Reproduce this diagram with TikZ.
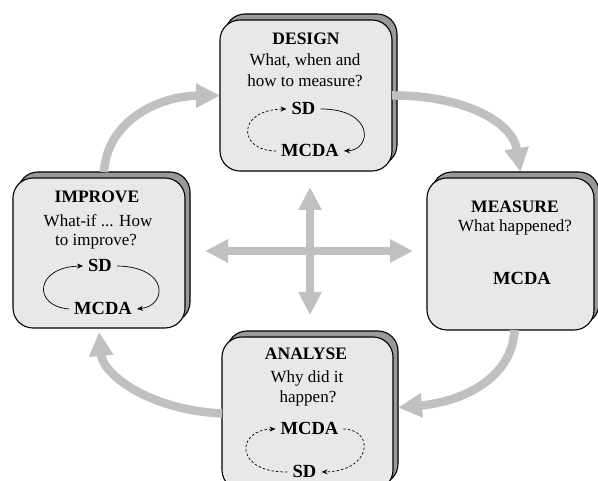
\documentclass[tikz,border=0pt]{standalone}
\usepackage{fontspec}
\setmainfont{Liberation Serif}
\usetikzlibrary{arrows.meta}
\definecolor{boxfill}{HTML}{E8E8E8}
\definecolor{shadowgray}{HTML}{999999}
\definecolor{arrowgray}{HTML}{C0C0C0}
\begin{document}
\begin{tikzpicture}[x=1pt,y=-1pt,
  shadowbox/.style={draw=black, line width=1.1pt, fill=shadowgray, rounded corners=20pt, inner sep=0pt, outer sep=0pt},
  frontbox/.style={draw=black, line width=1.1pt, fill=boxfill, rounded corners=20pt, inner sep=0pt, outer sep=0pt},
  txt/.style={font=\fontsize{17}{20}\selectfont, inner sep=0pt, anchor=base},
  ttl/.style={font=\fontsize{17.5}{20}\selectfont\bfseries, inner sep=0pt, anchor=base},
  cyc/.style={font=\fontsize{18.5}{20}\selectfont\bfseries, inner ysep=1pt, inner xsep=5pt, anchor=base},
  bigarrow/.style={draw=arrowgray, line width=8.5pt, -{Triangle[length=24pt,width=23pt]}},
  crossarrow/.style={draw=arrowgray, line width=8pt, {Triangle[length=23pt,width=22pt]}-{Triangle[length=23pt,width=22pt]}},
  loopsolid/.style={draw=black, line width=0.7pt, -{Stealth[length=6pt,width=5pt]}},
  loopdash/.style={loopsolid, dash pattern=on 2.5pt off 2pt}
]
\clip (0,0) rectangle (598,481);
\fill[white] (0,0) rectangle (598,481);

% boxes: shadow then front
\node[shadowbox, minimum width=172pt, minimum height=151pt] (designS) at (311,89.5) {};
\node[frontbox, minimum width=172pt, minimum height=151pt] (design) at (306,95.5) {};

\node[shadowbox, minimum width=167pt, minimum height=152pt] (measureS) at (515.5,248) {};
\node[frontbox, minimum width=167pt, minimum height=152pt] (measure) at (510.5,254) {};

\node[shadowbox, minimum width=172pt, minimum height=150pt] (improveS) at (104,247) {};
\node[frontbox, minimum width=172pt, minimum height=150pt] (improve) at (99,253) {};

\node[shadowbox, minimum width=171pt, minimum height=153pt] (analyseS) at (312.5,407.5) {};
\node[frontbox, minimum width=171pt, minimum height=153pt] (analyse) at (307.5,413.5) {};

% DESIGN texts
\node[ttl] (designT) at (306,45) {DESIGN};
\node[txt] (designQ1) at (305,66) {What, when and};
\node[txt] (designQ2) at (305,87) {how to measure?};
\node[cyc] (sdD) at (303.5,115) {SD};
\node[cyc] (mcdaD) at (310,157) {MCDA};
\draw[loopdash] (mcdaD.west) .. controls (238,151) and (236,110) .. (sdD.west);
\draw[loopsolid] (sdD.east) .. controls (375,109) and (372,150) .. (mcdaD.east);

% MEASURE texts
\node[ttl] (measureT) at (515,213) {MEASURE};
\node[txt] (measureQ) at (515,232) {What happened?};
\node[cyc] (mcdaM) at (522,285) {MCDA};

% IMPROVE texts
\node[ttl] (improveT) at (97,203) {IMPROVE};
\node[txt] (improveQ1) at (98,227) {What-if ... How};
\node[txt] (improveQ2) at (96,246) {to improve?};
\node[cyc] (sdI) at (100,272) {SD};
\node[cyc] (mcdaI) at (103,315) {MCDA};
\draw[loopsolid] (mcdaI.west) .. controls (32,306) and (35,267) .. (sdI.west);
\draw[loopsolid] (sdI.east) .. controls (170,267) and (167,306) .. (mcdaI.east);

% ANALYSE texts
\node[ttl] (analyseT) at (306,360) {ANALYSE};
\node[txt] (analyseQ1) at (307,383) {Why did it};
\node[txt] (analyseQ2) at (308,403) {happen?};
\node[cyc] (mcdaA) at (309.5,435) {MCDA};
\node[cyc] (sdA) at (304.5,478) {SD};
\draw[loopdash] (sdA.west) .. controls (235,473) and (235,430) .. (mcdaA.west);
\draw[loopdash] (mcdaA.east) .. controls (375,430) and (372,471) .. (sdA.east);

% cycle arrows
\draw[bigarrow] (design.east) .. controls (460,95) and (512,120) .. ([xshift=5pt]measureS.north);
\draw[bigarrow] ([xshift=4pt]measure.south) .. controls (512,380) and (460,402) .. (analyseS.east);
\draw[bigarrow] (analyse.west) .. controls (150,410) and (103,375) .. ([yshift=-4pt]improve.south);
\draw[bigarrow] (improveS.north) .. controls (107,120) and (160,96) .. (design.west);

% central cross
\coordinate (crossL) at (205,251);
\coordinate (crossR) at (413,251);
\coordinate (crossT) at (310,187);
\coordinate (crossB) at (310,315);
\draw[crossarrow] (crossL) -- (crossR);
\draw[crossarrow] (crossT) -- (crossB);
\end{tikzpicture}
\end{document}
